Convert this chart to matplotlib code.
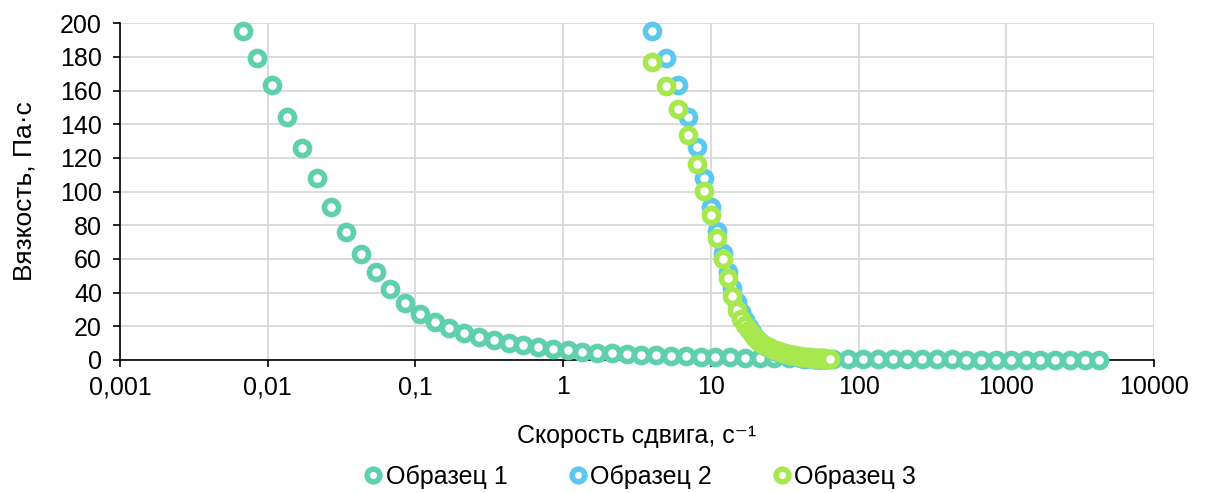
import matplotlib
matplotlib.use("Agg")
import matplotlib.pyplot as plt
from matplotlib.ticker import FixedLocator, FixedFormatter, NullLocator

plt.rcParams['font.family'] = ['Liberation Sans', 'DejaVu Sans']

# Sample 1 (log-spaced shear rates)
x1 = [0.00676, 0.00851, 0.0107, 0.0135, 0.0170, 0.0214, 0.0269, 0.0339, 0.0427, 0.0537,
      0.0676, 0.0851, 0.107, 0.135, 0.170, 0.214, 0.269, 0.339, 0.427, 0.537,
      0.676, 0.851, 1.07, 1.35, 1.70, 2.14, 2.69, 3.39, 4.27, 5.37,
      6.76, 8.51, 10.7, 13.5, 17.0, 21.4, 26.9, 33.9, 42.7, 53.7,
      67.6, 85.1, 107, 135, 170, 214, 269, 339, 427, 537,
      676, 851, 1070, 1350, 1700, 2140, 2690, 3390, 4270]
y1 = [195.3, 179.4, 163.2, 144.4, 126.0, 107.8, 90.6, 76.0, 62.9, 52.0,
      42.3, 34.0, 27.3, 22.7, 19.2, 16.2, 13.4, 11.9, 9.9, 8.9,
      7.5, 6.3, 5.9, 4.9, 4.3, 3.8, 3.4, 3.0, 2.7, 2.4,
      2.1, 1.9, 1.7, 1.5, 1.3, 1.2, 1.0, 0.9, 0.8, 0.7,
      0.6, 0.55, 0.5, 0.45, 0.4, 0.35, 0.3, 0.28, 0.25, 0.22,
      0.2, 0.18, 0.16, 0.14, 0.12, 0.1, 0.1, 0.09, 0.08]

# Sample 2
x2 = [4, 5, 6, 7, 8, 9, 10, 11, 12, 13, 14, 15, 16, 17, 18, 19, 20, 21, 22, 23,
      24, 25, 26, 27, 28, 29, 30, 31, 32, 33, 34, 35, 36, 37, 38, 39, 40, 41, 42, 43,
      44, 45, 46, 47, 48, 49, 50, 51, 52, 53, 54, 55, 56, 57, 58, 59, 60]
y2 = [195.3, 179.4, 163.2, 144.4, 126.2, 107.8, 91.0, 76.6, 63.3, 52.4,
      42.5, 34.4, 28.5, 23.5, 19.5, 16.3, 13.8, 11.8, 10.2, 8.9,
      7.8, 6.9, 6.1, 5.5, 4.9, 4.4, 4.0, 3.6, 3.3, 3.0,
      2.7, 2.5, 2.3, 2.1, 1.9, 1.8, 1.6, 1.5, 1.4, 1.3,
      1.2, 1.1, 1.0, 0.95, 0.9, 0.85, 0.8, 0.75, 0.7, 0.65,
      0.6, 0.58, 0.55, 0.52, 0.5, 0.48, 0.45]

# Sample 3
x3 = [4, 5, 6, 7, 8, 9, 10, 11, 12, 13, 14, 15, 16, 17, 18, 19, 20, 21, 22, 23,
      24, 25, 26, 27, 28, 29, 30, 31, 32, 33, 34, 35, 36, 37, 38, 39, 40, 41, 42, 43,
      44, 45, 46, 47, 48, 49, 50, 51, 52, 53, 54, 55, 56, 57, 58, 59, 60, 61, 62, 63, 64]
y3 = [176.7, 162.6, 149.0, 133.4, 116.5, 100.3, 86.0, 72.6, 59.8, 48.8,
      38.0, 29.7, 24.5, 21.0, 18.0, 15.3, 13.0, 11.4, 10.1, 9.0,
      8.1, 7.3, 6.6, 6.0, 5.5, 5.0, 4.6, 4.2, 3.9, 3.6,
      3.3, 3.1, 2.9, 2.7, 2.5, 2.3, 2.2, 2.0, 1.9, 1.8,
      1.7, 1.6, 1.5, 1.4, 1.35, 1.3, 1.2, 1.15, 1.1, 1.05,
      1.0, 0.95, 0.9, 0.87, 0.84, 0.8, 0.77, 0.74, 0.71, 0.68, 0.65]

series_names = ['Образец 1', 'Образец 2', 'Образец 3']
colors = ['#5FD0AE', '#5BC8F0', '#A6E84E']

x_ticks = [0.001, 0.01, 0.1, 1, 10, 100, 1000, 10000]
x_ticklabels = ['0,001', '0,01', '0,1', '1', '10', '100', '1000', '10000']
y_ticks = [0, 20, 40, 60, 80, 100, 120, 140, 160, 180, 200]

fig = plt.figure(figsize=(12.05, 4.93), dpi=100)
ax = fig.add_axes([0.0996, 0.270, 0.8581, 0.683])

for xs, ys, c, name in zip([x1, x2, x3], [y1, y2, y3], colors, series_names):
    ax.plot(xs, ys, linestyle='none', marker='o', markersize=10.2,
            markerfacecolor='white', markeredgecolor=c, markeredgewidth=4.0,
            label=name, clip_on=False, zorder=3)

ax.set_xscale('log')
ax.set_xlim(0.001, 10000)
ax.set_ylim(0, 200)
ax.xaxis.set_major_locator(FixedLocator(x_ticks))
ax.xaxis.set_major_formatter(FixedFormatter(x_ticklabels))
ax.xaxis.set_minor_locator(NullLocator())
ax.set_yticks(y_ticks)

ax.grid(True, color='#D9D9D9', linewidth=1.3, zorder=0)
ax.set_axisbelow(True)
for s in ['top', 'right']:
    ax.spines[s].set_visible(False)
ax.spines['left'].set_color('black')
ax.spines['bottom'].set_color('black')
ax.spines['left'].set_linewidth(1.2)
ax.spines['bottom'].set_linewidth(1.2)
ax.tick_params(axis='both', direction='out', length=5, width=1.2, colors='black',
               labelsize=18)
ax.tick_params(axis='y', pad=8)
ax.tick_params(axis='x', pad=6)

ax.set_xlabel('Скорость сдвига, с⁻¹', fontsize=18, labelpad=18)
ax.set_ylabel('Вязкость, Па·с', fontsize=19, labelpad=17)

leg = fig.legend(loc='center', bbox_to_anchor=(0.531, 0.032), ncol=3,
                 frameon=False, fontsize=18, handletextpad=0.1,
                 columnspacing=2.4, markerscale=0.9, handlelength=0.8,
                 borderaxespad=0, borderpad=0)

fig.savefig('out.png', dpi=100)
